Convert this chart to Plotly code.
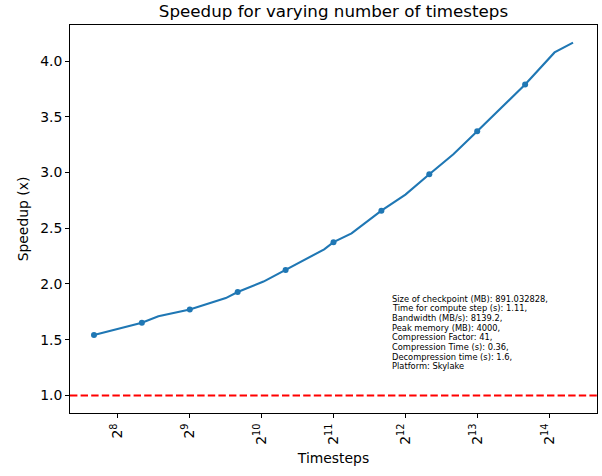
import math
import plotly.graph_objects as go

# ---- data ----
timesteps = [203.2, 255.6, 322.5, 378.2, 512, 724.6, 812.7, 1042.7, 1290.2, 1871.7,
             2048, 2437, 3251, 4099, 5160, 6508, 8192, 10240, 13004, 17270, 20643]
speedup = [1.542, 1.595, 1.652, 1.710, 1.770, 1.873, 1.927, 2.021, 2.124, 2.310,
           2.375, 2.454, 2.657, 2.801, 2.984, 3.163, 3.369, 3.572, 3.790, 4.077, 4.165]
marker_idx = [0, 2, 4, 6, 8, 10, 12, 14, 16, 18]
baseline = 1.0

tick_vals = [256, 512, 1024, 2048, 4096, 8192, 16384]
tick_text = ["2<sup>8</sup>", "2<sup>9</sup>", "2<sup>10</sup>", "2<sup>11</sup>",
             "2<sup>12</sup>", "2<sup>13</sup>", "2<sup>14</sup>"]
y_ticks = [1.0, 1.5, 2.0, 2.5, 3.0, 3.5, 4.0]

info_lines = [
    "Size of checkpoint (MB): 891.032828,",
    "Time for compute step (s): 1.11,",
    "Bandwidth (MB/s): 8139.2,",
    "Peak memory (MB): 4000,",
    "Compression Factor: 41,",
    "Compression Time (s): 0.36,",
    "Decompression time (s): 1.6,",
    "Platform: Skylake",
]

# ---- layout constants ----
W, H = 602, 476
L, R, T, B = 70, 5, 25, 63
plot_h = H - T - B
FONT = "DejaVu Sans"
BLUE = "#1f77b4"

fig = go.Figure()
fig.add_trace(go.Scatter(x=timesteps, y=speedup, mode="lines",
                         line=dict(color=BLUE, width=2.1), hoverinfo="skip",
                         showlegend=False))
fig.add_trace(go.Scatter(x=[timesteps[i] for i in marker_idx],
                         y=[speedup[i] for i in marker_idx], mode="markers",
                         marker=dict(color=BLUE, size=6), showlegend=False))

fig.add_shape(type="line", xref="paper", x0=0, x1=1, yref="y", y0=baseline, y1=baseline,
              line=dict(color="red", width=2, dash="7.4px,3.2px"))

annots = []
for i, txt in enumerate(info_lines):
    py = 298.5 + 9.7 * i
    annots.append(dict(text=txt, xref="paper", yref="paper",
                       x=(390 - L) / (W - L - R), y=(H - B - py) / plot_h,
                       xanchor="left", yanchor="middle", showarrow=False,
                       font=dict(family=FONT, size=8.3, color="black")))

fig.update_layout(
    width=W, height=H,
    margin=dict(l=L, r=R, t=T, b=B, autoexpand=False),
    paper_bgcolor="white", plot_bgcolor="white",
    font=dict(family=FONT, size=13.9, color="black"),
    title=dict(text="Speedup for varying number of timesteps", x=0.5, xref="paper",
               y=1 - 11.5 / H, yref="container", yanchor="middle", xanchor="center",
               font=dict(family=FONT, size=16.7, color="black")),
    annotations=annots,
    hovermode=False,
)

fig.update_xaxes(type="log",
                 range=[7.333 * math.log10(2), 14.667 * math.log10(2)],
                 tickmode="array", tickvals=tick_vals, ticktext=tick_text,
                 tickangle=-90, ticks="outside", ticklen=4, tickwidth=1, tickcolor="black",
                 showline=True, linecolor="black", linewidth=1, mirror=True,
                 showgrid=False, zeroline=False,
                 title=dict(text="Timesteps", standoff=9, font=dict(size=13.9)),
                 automargin=False)
fig.update_yaxes(range=[0.842, 4.323], tickmode="array", tickvals=y_ticks,
                 ticktext=[f"{v:.1f}" for v in y_ticks],
                 ticks="outside", ticklen=4, tickwidth=1, tickcolor="black",
                 showline=True, linecolor="black", linewidth=1, mirror=True,
                 showgrid=False, zeroline=False,
                 title=dict(text="Speedup (x)", standoff=8, font=dict(size=13.9)),
                 automargin=False)

fig.write_html("out.html", config={"displayModeBar": False},
               post_script="document.body.style.margin='0';")
